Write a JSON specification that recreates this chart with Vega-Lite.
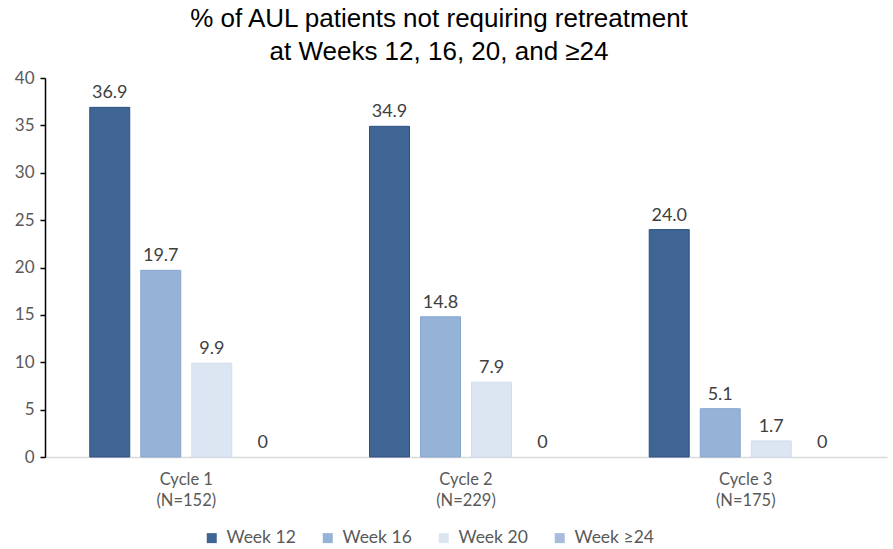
{
  "$schema": "https://vega.github.io/schema/vega-lite/v6.json",
  "autosize": {"type": "none"},
  "width": 842,
  "height": 379,
  "padding": {"left": 45, "top": 78, "right": 6, "bottom": 92},
  "background": "white",
  "title": {
    "text": ["% of AUL patients not requiring retreatment", "at Weeks 12, 16, 20, and ≥24"],
    "font": "Liberation Sans",
    "fontSize": 26,
    "fontWeight": "normal",
    "color": "#000000",
    "lineHeight": 33,
    "anchor": "middle",
    "frame": "group",
    "dx": -27,
    "offset": 4
  },
  "data": {
    "values": [
      {"cycle": "Cycle 1 (N=152)", "week": "Week 12", "pct": 36.9},
      {"cycle": "Cycle 1 (N=152)", "week": "Week 16", "pct": 19.7},
      {"cycle": "Cycle 1 (N=152)", "week": "Week 20", "pct": 9.9},
      {"cycle": "Cycle 1 (N=152)", "week": "Week ≥24", "pct": 0},
      {"cycle": "Cycle 2 (N=229)", "week": "Week 12", "pct": 34.9},
      {"cycle": "Cycle 2 (N=229)", "week": "Week 16", "pct": 14.8},
      {"cycle": "Cycle 2 (N=229)", "week": "Week 20", "pct": 7.9},
      {"cycle": "Cycle 2 (N=229)", "week": "Week ≥24", "pct": 0},
      {"cycle": "Cycle 3 (N=175)", "week": "Week 12", "pct": 24.0},
      {"cycle": "Cycle 3 (N=175)", "week": "Week 16", "pct": 5.1},
      {"cycle": "Cycle 3 (N=175)", "week": "Week 20", "pct": 1.7},
      {"cycle": "Cycle 3 (N=175)", "week": "Week ≥24", "pct": 0}
    ]
  },
  "transform": [
    {"calculate": "datum.pct === 0 ? '0' : format(datum.pct, '.1f')", "as": "label"}
  ],
  "encoding": {
    "x": {
      "field": "cycle",
      "type": "nominal",
      "title": null,
      "scale": {"paddingInner": 0.31, "paddingOuter": 0.16},
      "axis": {
        "labelAngle": 0,
        "labelExpr": "[slice(datum.label, 0, 7), slice(datum.label, 8)]",
        "labelFont": "Lato",
        "labelFontSize": 16.5,
        "labelColor": "#595959",
        "labelLineHeight": 21,
        "labelPadding": 14,
        "ticks": false,
        "domainColor": "#d9d9d9",
        "domainWidth": 1.5
      }
    },
    "xOffset": {
      "field": "week",
      "type": "nominal",
      "sort": ["Week 12", "Week 16", "Week 20", "Week ≥24"],
      "scale": {"paddingInner": 0.216, "paddingOuter": 0}
    },
    "y": {
      "field": "pct",
      "type": "quantitative",
      "title": null,
      "scale": {"domain": [0, 40], "nice": false},
      "axis": {
        "values": [0, 5, 10, 15, 20, 25, 30, 35, 40],
        "grid": false,
        "domainColor": "#000000",
        "domainWidth": 1.5,
        "tickColor": "#000000",
        "tickWidth": 1.5,
        "tickSize": 5,
        "labelFont": "Lato",
        "labelFontSize": 17,
        "labelColor": "#595959",
        "labelPadding": 6
      }
    }
  },
  "layer": [
    {
      "mark": {"type": "bar", "strokeWidth": 1},
      "encoding": {
        "color": {
          "field": "week",
          "type": "nominal",
          "sort": ["Week 12", "Week 16", "Week 20", "Week ≥24"],
          "scale": {
            "domain": ["Week 12", "Week 16", "Week 20", "Week ≥24"],
            "range": ["#3E6594", "#95B2D7", "#DCE5F2", "#A7BCDD"]
          },
          "legend": {
            "title": null,
            "orient": "none",
            "legendX": 158,
            "legendY": 451,
            "direction": "horizontal",
            "symbolType": "square",
            "symbolSize": 100,
            "symbolStrokeWidth": 0,
            "labelOffset": 6,
            "labelFont": "Lato",
            "labelFontSize": 17.5,
            "labelColor": "#595959",
            "columnPadding": 23
          }
        },
        "stroke": {
          "field": "week",
          "type": "nominal",
          "scale": {
            "domain": ["Week 12", "Week 16", "Week 20", "Week ≥24"],
            "range": ["#2E5182", "#88A6CF", "#D2DDEE", "transparent"]
          },
          "legend": null
        }
      }
    },
    {
      "mark": {
        "type": "text",
        "baseline": "bottom",
        "dy": -5,
        "font": "Lato",
        "fontSize": 18,
        "color": "#404040"
      },
      "encoding": {
        "text": {"field": "label"}
      }
    }
  ],
  "config": {
    "view": {"stroke": null}
  }
}
